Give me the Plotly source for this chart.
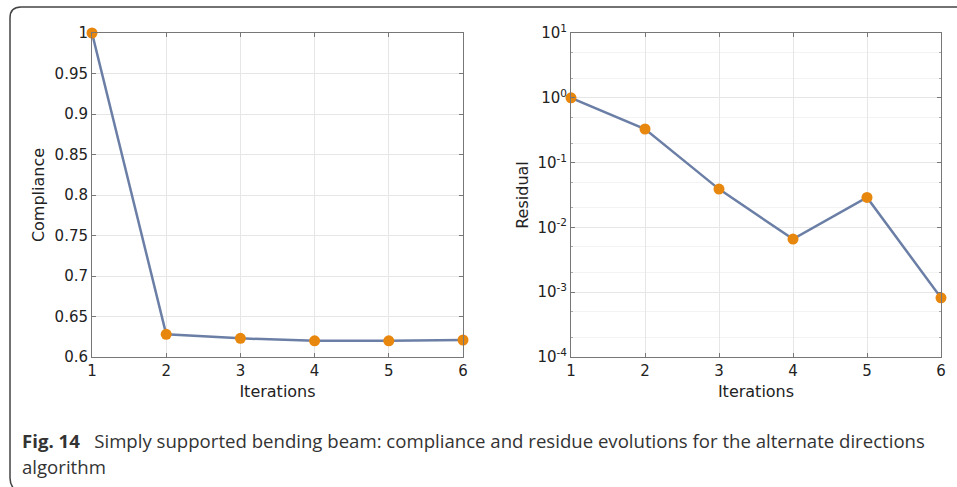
import plotly.graph_objects as go

iterations = [1, 2, 3, 4, 5, 6]
compliance = [1.0, 0.628, 0.623, 0.620, 0.620, 0.621]
residual = [1.0, 0.33, 0.039, 0.0066, 0.029, 0.00082]
compliance_ticks = [0.6, 0.65, 0.7, 0.75, 0.8, 0.85, 0.9, 0.95, 1.0]
compliance_ticktext = ["0.6", "0.65", "0.7", "0.75", "0.8", "0.85", "0.9", "0.95", "1"]
residual_ticks = [1e-4, 1e-3, 1e-2, 1e-1, 1e0, 1e1]
residual_ticktext = ["10<sup>-4</sup>", "10<sup>-3</sup>", "10<sup>-2</sup>",
                     "10<sup>-1</sup>", "10<sup>0</sup>", "10<sup>1</sup>"]

W, H = 957, 487
LINE = "#6b7fa6"
MARK = "#e8870e"
FONT = "DejaVu Sans"

fig = go.Figure()
fig.add_trace(go.Scatter(x=iterations, y=compliance, mode="lines+markers",
                         line=dict(color=LINE, width=2.5),
                         marker=dict(color=MARK, size=11), xaxis="x", yaxis="y",
                         showlegend=False, cliponaxis=False))
fig.add_trace(go.Scatter(x=iterations, y=residual, mode="lines+markers",
                         line=dict(color=LINE, width=2.5),
                         marker=dict(color=MARK, size=11), xaxis="x2", yaxis="y2",
                         showlegend=False, cliponaxis=False))

def px(x):
    return x / W

def py(y):
    return 1 - y / H

axis_common = dict(showline=True, linecolor="#777", linewidth=1, mirror="ticks",
                   ticks="inside", ticklen=4, tickcolor="#777", automargin=False,
                   showgrid=True, gridcolor="#e6e6e6", gridwidth=1, zeroline=False,
                   tickfont=dict(family=FONT, size=15, color="#222"))
title_font = dict(family=FONT, size=16, color="#222")

fig.update_layout(
    width=W, height=H, margin=dict(l=0, r=0, t=0, b=0, autoexpand=False),
    paper_bgcolor="white", plot_bgcolor="white",
    xaxis=dict(domain=[px(92), px(463)], range=[1, 6], dtick=1, anchor="y",
               title=dict(text="Iterations", font=title_font, standoff=6),
               **axis_common),
    yaxis=dict(domain=[py(357), py(33)], range=[0.6, 1.0], tickvals=compliance_ticks,
               ticktext=compliance_ticktext, anchor="x",
               title=dict(text="Compliance", font=title_font, standoff=5),
               **axis_common),
    xaxis2=dict(domain=[px(571), px(941)], range=[1, 6], dtick=1, anchor="y2",
                title=dict(text="Iterations", font=title_font, standoff=6),
                **axis_common),
    yaxis2=dict(domain=[py(357), py(33)], type="log", range=[-4, 1],
                tickvals=residual_ticks, ticktext=residual_ticktext, anchor="x2",
                minor=dict(showgrid=True, gridcolor="#f3f3f3", ticks="inside", ticklen=2,
                           tickcolor="#aaa"),
                title=dict(text="Residual", font=title_font, standoff=4),
                **axis_common),
)

# frame with rounded corner
path = (f"M {px(960)},{py(7)} L {px(21)},{py(7)} Q {px(10)},{py(7)} {px(10)},{py(18)} "
        f"L {px(10)},{py(478)} Q {px(10)},{py(485)} {px(15)},{py(490)}")
fig.add_shape(type="path", path=path, xref="paper", yref="paper",
              line=dict(color="#444", width=1.5))

cap_font = dict(family="Open Sans", size=18.6, color="#333")
fig.add_annotation(x=px(20), y=py(440), xref="paper", yref="paper", xanchor="left", yanchor="middle",
                   text="<b>Fig. 14</b>   Simply supported bending beam: compliance and residue evolutions for the alternate directions",
                   showarrow=False, font=cap_font)
fig.add_annotation(x=px(20), y=py(466), xref="paper", yref="paper", xanchor="left", yanchor="middle",
                   text="algorithm", showarrow=False, font=cap_font)

fig.write_html("out.html", post_script="document.body.style.margin='0px';")
